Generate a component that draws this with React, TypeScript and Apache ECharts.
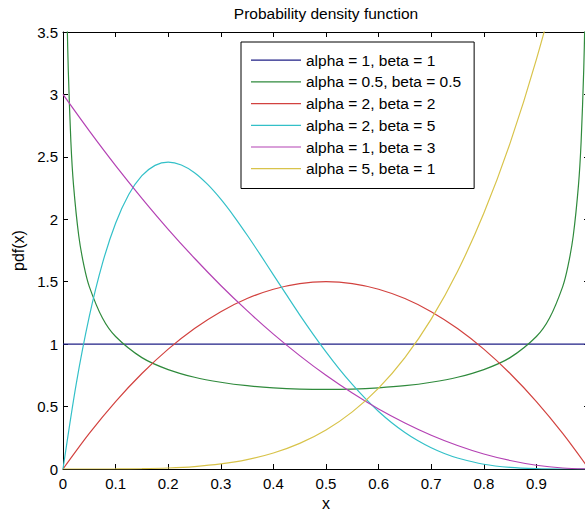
import React, { useEffect, useRef } from "react";
import * as echarts from "echarts";

// ---- data ----
const X_TICKS_INTERVAL = 0.1;
const Y_TICKS_INTERVAL = 0.5;

const X20 = [0, 0.05, 0.1, 0.15, 0.2, 0.25, 0.3, 0.35, 0.4, 0.45, 0.5, 0.55, 0.6, 0.65, 0.7, 0.75, 0.8, 0.85, 0.9, 0.95, 1];

const UNIFORM_X = [0, 1];
const UNIFORM_Y = [1, 1];

const ARCSINE_X = [0.001, 0.002, 0.004, 0.006, 0.008, 0.01, 0.015, 0.02, 0.03, 0.04, 0.05, 0.075,
  0.1, 0.15, 0.2, 0.25, 0.3, 0.35, 0.4, 0.45, 0.5, 0.55, 0.6, 0.65, 0.7, 0.75, 0.8, 0.85, 0.9,
  0.925, 0.95, 0.96, 0.97, 0.98, 0.985, 0.99, 0.992, 0.994, 0.996, 0.998, 0.999];
const ARCSINE_Y = [10.07, 7.125, 5.043, 4.122, 3.573, 3.199, 2.619, 2.274, 1.866, 1.624, 1.461, 1.209,
  1.061, 0.892, 0.796, 0.735, 0.695, 0.667, 0.65, 0.64, 0.637, 0.64, 0.65, 0.667, 0.695, 0.735, 0.796, 0.892, 1.061,
  1.209, 1.461, 1.624, 1.866, 2.274, 2.619, 3.199, 3.573, 4.122, 5.043, 7.125, 10.07];

const BETA22_Y = [0, 0.285, 0.54, 0.765, 0.96, 1.125, 1.26, 1.365, 1.44, 1.485, 1.5, 1.485, 1.44, 1.365, 1.26, 1.125, 0.96, 0.765, 0.54, 0.285, 0];

const BETA25_X = [0, 0.025, 0.05, 0.075, 0.1, 0.125, 0.15, 0.175, 0.2, 0.225, 0.25, 0.275, 0.3, 0.325, 0.35, 0.375,
  0.4, 0.425, 0.45, 0.475, 0.5, 0.525, 0.55, 0.575, 0.6, 0.625, 0.65, 0.675, 0.7, 0.725, 0.75, 0.8, 0.85, 0.9, 0.95, 1];
const BETA25_Y = [0, 0.678, 1.222, 1.647, 1.968, 2.198, 2.349, 2.432, 2.458, 2.435, 2.373, 2.279, 2.161, 2.024, 1.874, 1.717,
  1.555, 1.394, 1.235, 1.083, 0.938, 0.802, 0.677, 0.563, 0.461, 0.371, 0.293, 0.226, 0.17, 0.124, 0.088, 0.038, 0.013, 0.003, 0.0002, 0];

const BETA13_Y = [3, 2.708, 2.43, 2.168, 1.92, 1.688, 1.47, 1.268, 1.08, 0.908, 0.75, 0.608, 0.48, 0.368, 0.27, 0.188, 0.12, 0.068, 0.03, 0.008, 0];

const BETA51_Y = [0, 0, 0.0005, 0.0025, 0.008, 0.0195, 0.0405, 0.075, 0.128, 0.205, 0.3125, 0.4575, 0.648, 0.8925, 1.2005, 1.582, 2.048, 2.61, 3.2805, 4.0725, 5];

const SERIES_NAMES = [
  "alpha = 1, beta = 1",
  "alpha = 0.5, beta = 0.5",
  "alpha = 2, beta = 2",
  "alpha = 2, beta = 5",
  "alpha = 1, beta = 3",
  "alpha = 5, beta = 1",
];
const COLORS = ["#1f1f86", "#2f8a3c", "#d2423f", "#33c0c8", "#b442b4", "#d8c34a"];

const zip = (xs: number[], ys: number[]) => xs.map((x, i) => [x, ys[i]]);

const FONT = "'Liberation Sans', Arial, Helvetica, sans-serif";

export default function App() {
  const ref = useRef<HTMLDivElement>(null);
  useEffect(() => {
    if (!ref.current) return;
    const chart = echarts.init(ref.current, undefined, { renderer: "svg" });
    const datasets = [
      zip(UNIFORM_X, UNIFORM_Y),
      zip(ARCSINE_X, ARCSINE_Y),
      zip(X20, BETA22_Y),
      zip(BETA25_X, BETA25_Y),
      zip(X20, BETA13_Y),
      zip(X20, BETA51_Y),
    ];
    const axisLine = { show: true, onZero: false, lineStyle: { color: "#000", width: 1 } };
    const tick = { show: true, inside: true, length: 5, lineStyle: { color: "#000", width: 1 } };
    chart.setOption({
      animation: false,
      backgroundColor: "#fff",
      textStyle: { fontFamily: FONT },
      title: {
        text: "Probability density function",
        left: 326,
        textAlign: "center",
        top: 5,
        padding: 0,
        textStyle: { fontFamily: FONT, fontSize: 15.5, fontWeight: "normal", color: "#000" },
      },
      grid: { left: 63, top: 32, width: 526, height: 437, containLabel: false, outerBoundsMode: "none" },
      legend: {
        orient: "vertical",
        left: 241,
        top: 42,
        padding: [10.2, 13, 11.8, 10],
        icon: "rect",
        itemWidth: 50,
        itemHeight: 1.2,
        itemGap: 5.7,
        borderColor: "#000",
        borderWidth: 1,
        backgroundColor: "#fff",
        textStyle: { fontFamily: FONT, fontSize: 15.5, color: "#000", lineHeight: 15 },
        data: SERIES_NAMES,
      },
      xAxis: [
        {
          type: "value",
          min: 0,
          max: 1,
          interval: X_TICKS_INTERVAL,
          position: "bottom",
          name: "x",
          nameLocation: "middle",
          nameGap: 10,
          nameTextStyle: { fontFamily: FONT, fontSize: 16, color: "#000" },
          axisLine,
          axisTick: tick,
          splitLine: { show: false },
          axisLabel: { fontFamily: FONT, fontSize: 15, color: "#000", margin: 7, showMaxLabel: false },
        },
        {
          type: "value",
          min: 0,
          max: 1,
          interval: X_TICKS_INTERVAL,
          position: "top",
          axisLine,
          axisTick: tick,
          splitLine: { show: false },
          axisLabel: { show: false },
        },
      ],
      yAxis: [
        {
          type: "value",
          min: 0,
          max: 3.5,
          interval: Y_TICKS_INTERVAL,
          position: "left",
          name: "pdf(x)",
          nameLocation: "middle",
          nameGap: 33,
          nameRotate: 90,
          nameTextStyle: { fontFamily: FONT, fontSize: 16, color: "#000" },
          axisLine,
          axisTick: tick,
          splitLine: { show: false },
          axisLabel: { fontFamily: FONT, fontSize: 15, color: "#000", margin: 5 },
        },
        {
          type: "value",
          min: 0,
          max: 3.5,
          interval: Y_TICKS_INTERVAL,
          position: "right",
          axisLine,
          axisTick: tick,
          splitLine: { show: false },
          axisLabel: { show: false },
        },
      ],
      series: datasets.map((d, i) => ({
        type: "line",
        name: SERIES_NAMES[i],
        data: d,
        symbol: "none",
        showSymbol: false,
        clip: true,
        smooth: i === 0 ? false : 0.3,
        color: COLORS[i],
        itemStyle: { color: COLORS[i] },
        lineStyle: { color: COLORS[i], width: 1.2 },
        emphasis: { disabled: true },
      })),
    });
    return () => chart.dispose();
  }, []);
  return (
    <div
      ref={ref}
      style={{ position: "absolute", left: 0, top: 0, width: 585, height: 514 }}
    />
  );
}
